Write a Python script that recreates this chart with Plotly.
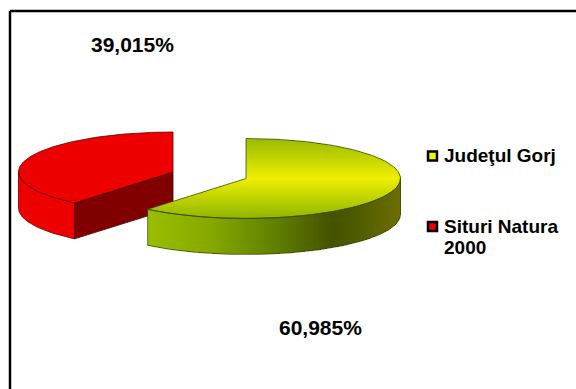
import numpy as np
import plotly.graph_objects as go

categories = [["Judeţul Gorj"], ["Situri Natura", "2000"]]
values = [60.985, 39.015]
labels = ["60,985%", "39,015%"]
top_stops = [[0.0, "#98BC00"], [0.5, "#EEEE00"], [1.0, "#8FB600"]]
side_stops = [[0.0, "#9ABE00"], [0.25, "#86A800"], [0.49, "#628200"],
              [0.73, "#445200"], [0.87, "#566000"], [1.0, "#6E6E00"]]

W, H = 576, 389
A, B, DEPTH = 154.5, 40.0, 36.0
GREEN_C = (246.0, 178.5)
RED_C = (173.0, 172.0)
split = 2 * np.pi * values[0] / sum(values)


def ell(c, th):
    return c[0] + A * np.sin(th), c[1] - B * np.cos(th)


fig = go.Figure()


def poly(x, y, fill, line, lw=0.8):
    fig.add_trace(go.Scatter(x=x, y=y, mode="lines", fill="toself", fillcolor=fill,
                             line=dict(color=line, width=lw),
                             hoverinfo="skip", showlegend=False))


def outline(x, y, color, lw=0.8):
    fig.add_trace(go.Scatter(x=x, y=y, mode="lines", line=dict(color=color, width=lw),
                             xaxis="x2", yaxis="y2", hoverinfo="skip", showlegend=False))


# ---- red slice (exploded), on the base axes so the green slice sits in front ----
th_red = np.linspace(split, 2 * np.pi, 160)
rx, ry = ell(RED_C, th_red)
tr = th_red[th_red <= 1.5 * np.pi]
sx, sy = ell(RED_C, tr)
poly(np.r_[sx, sx[::-1], sx[0]], np.r_[sy, sy[::-1] + DEPTH, sy[0]], "#EE0000", "#6E0000")
tx, ty = ell(RED_C, split)
poly([tx, RED_C[0], RED_C[0], tx, tx],
     [ty, RED_C[1], RED_C[1] + DEPTH, ty + DEPTH, ty], "#800000", "#4A0000")
poly(np.r_[RED_C[0], rx, RED_C[0]], np.r_[RED_C[1], ry, RED_C[1]], "#EE0000", "#5A0000")

# ---- green slice: gradients painted as masked heatmaps on a 1px grid ----
gxs = np.arange(130, 420) + 0.5
gys = np.arange(125, 265) + 0.5
XX, YY = np.meshgrid(gxs, gys)
tipx, tipy = ell(GREEN_C, split)

u = (XX - GREEN_C[0]) / A
v = (YY - GREEN_C[1]) / B
arc = B * np.sqrt(np.clip(1 - u ** 2, 0, 1))

# side wall
wall = (np.abs(u) <= 1) & (XX >= tipx)
wall &= (YY >= GREEN_C[1] + arc - 1) & (YY <= GREEN_C[1] + DEPTH + arc)
z_side = np.where(wall, (XX - tipx) / (GREEN_C[0] + A - tipx), np.nan)
fig.add_trace(go.Heatmap(x=gxs, y=gys, z=z_side, zmin=0, zmax=1, colorscale=side_stops,
                         xaxis="x2", yaxis="y2", showscale=False, hoverinfo="skip"))

# top face
inside = u ** 2 + v ** 2 <= 1
y_cut = GREEN_C[1] + (tipy - GREEN_C[1]) * (XX - GREEN_C[0]) / (tipx - GREEN_C[0])
removed = (XX < GREEN_C[0]) & (YY < y_cut)
z_top = np.where(inside & ~removed, (YY - (GREEN_C[1] - B)) / (2 * B), np.nan)
fig.add_trace(go.Heatmap(x=gxs, y=gys, z=z_top, zmin=0, zmax=1, colorscale=top_stops,
                         xaxis="x2", yaxis="y2", showscale=False, hoverinfo="skip"))

th_g = np.linspace(0, split, 300)
gx, gy = ell(GREEN_C, th_g)
fx, fy = ell(GREEN_C, th_g[th_g >= np.pi / 2])
outline(np.r_[fx, fx[::-1], fx[0]], np.r_[fy, fy[::-1] + DEPTH, fy[0]], "#3C4A00")
outline(np.r_[GREEN_C[0], gx, GREEN_C[0]], np.r_[GREEN_C[1], gy, GREEN_C[1]], "#3F4F00")

# ---- legend keys ----
leg_y = [156, 226.5]
line_y = [[155.5], [226.5, 247.5]]
fig.add_trace(go.Scatter(x=[432.5, 432.5], y=leg_y, mode="markers",
                         marker=dict(symbol="square", size=9,
                                     color=["#F2F200", "#EE0000"],
                                     line=dict(color="black", width=2.5)),
                         hoverinfo="skip", showlegend=False))

ann = []
for cat, ys in zip(categories, line_y):
    for part, ly in zip(cat, ys):
        ann.append(dict(x=441.5, y=ly, text="<b>%s</b>" % part, showarrow=False, xanchor="left",
                        yanchor="middle", align="left", font=dict(size=19, color="black")))
ann.append(dict(x=320.5, y=327.5, text="<b>%s</b>" % labels[0], showarrow=False,
                font=dict(size=21, color="black")))
ann.append(dict(x=132.5, y=44, text="<b>%s</b>" % labels[1], showarrow=False,
                font=dict(size=21, color="black")))

axis_x = dict(range=[0, W], visible=False, fixedrange=True)
axis_y = dict(range=[H, 0], visible=False, fixedrange=True)
fig.update_layout(
    width=W, height=H, margin=dict(l=0, r=0, t=0, b=0, pad=0),
    paper_bgcolor="white", plot_bgcolor="white",
    font=dict(family="Liberation Sans, Arial, sans-serif"),
    xaxis=axis_x, yaxis=axis_y,
    xaxis2=dict(axis_x, overlaying="x"), yaxis2=dict(axis_y, overlaying="y"),
    annotations=ann, showlegend=False,
    shapes=[dict(type="line", x0=10, y0=11, x1=W, y1=11, line=dict(color="black", width=2.5)),
            dict(type="line", x0=10, y0=11, x1=10, y1=H, line=dict(color="black", width=2.5))],
)
fig.write_html("out.html", config=dict(displayModeBar=False),
               post_script="document.body.style.margin='0';document.documentElement.style.overflow='hidden';")
